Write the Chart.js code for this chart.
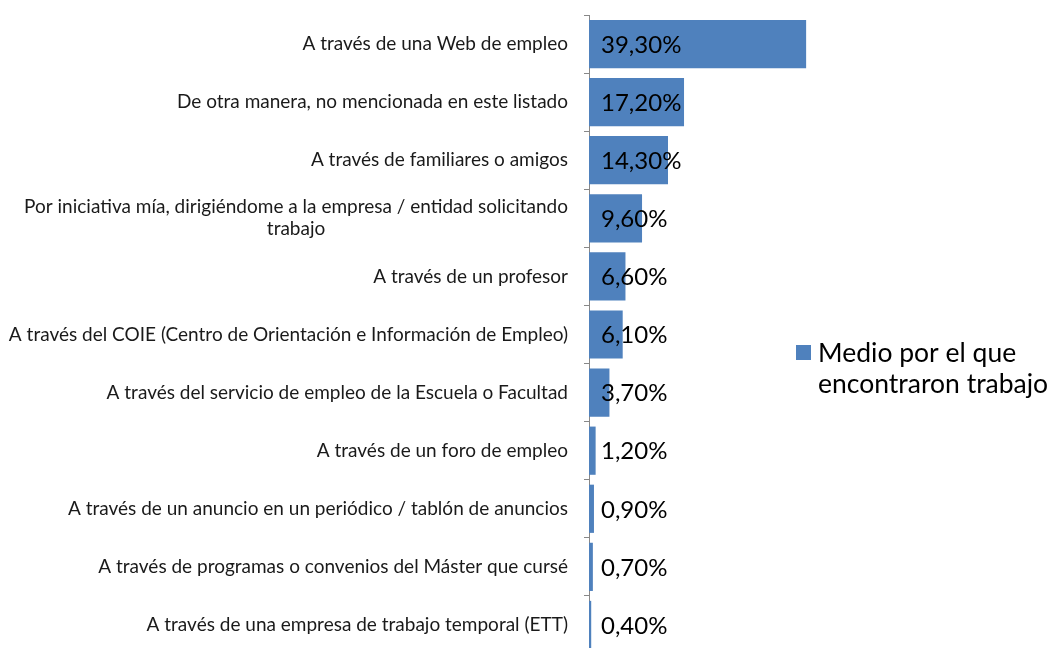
<!DOCTYPE html>
<html>
<head>
<meta charset="utf-8">
<script src="https://cdn.jsdelivr.net/npm/chart.js@4/dist/chart.umd.min.js"></script>
<style>
html,body{margin:0;padding:0;background:#fff;overflow:hidden;width:1055px;height:648px;}
#wrap{position:absolute;left:0;top:0;width:1055px;height:660px;}
</style>
</head>
<body>
<div id="wrap"><canvas id="c" width="1055" height="660"></canvas></div>
<script>
const categories = [
  "A través de una Web de empleo",
  "De otra manera, no mencionada en este listado",
  "A través de familiares o amigos",
  ["Por iniciativa mía, dirigiéndome a la empresa / entidad solicitando", "trabajo"],
  "A través de un profesor",
  "A través del COIE (Centro de Orientación e Información de Empleo)",
  "A través del servicio de empleo de la Escuela o Facultad",
  "A través de un foro de empleo",
  "A través de un anuncio en un periódico / tablón de anuncios",
  "A través de programas o convenios del Máster que cursé",
  "A través de una empresa de trabajo temporal (ETT)"
];
const values = [39.3, 17.2, 14.3, 9.6, 6.6, 6.1, 3.7, 1.2, 0.9, 0.7, 0.4];
const valueLabels = ["39,30%", "17,20%", "14,30%", "9,60%", "6,60%", "6,10%", "3,70%", "1,20%", "0,90%", "0,70%", "0,40%"];
const seriesName = ["Medio por el que", "encontraron trabajo"];

const FONT = "Lato, 'Open Sans', sans-serif";
const BLUE = "#4F81BD";

const drawPlugin = {
  id: 'custom',
  afterDatasetsDraw(chart) {
    const ctx = chart.ctx;
    const y = chart.scales.y;
    const meta = chart.getDatasetMeta(0);
    ctx.save();
    // category labels
    ctx.font = "19px " + FONT;
    ctx.fillStyle = "#1a1a1a";
    ctx.textBaseline = "middle";
    ctx.textAlign = "center";
    const rightEdge = y.right - 21;
    categories.forEach((lab, i) => {
      const lines = Array.isArray(lab) ? lab : [lab];
      const w = Math.max(...lines.map(l => ctx.measureText(l).width));
      const cx = rightEdge - w / 2;
      const cy = y.getPixelForValue(i);
      const lh = 22;
      lines.forEach((l, k) => {
        ctx.fillText(l, cx, cy + (k - (lines.length - 1) / 2) * lh);
      });
    });
    // value labels
    ctx.font = "24px " + FONT;
    ctx.fillStyle = "#000";
    ctx.textAlign = "left";
    meta.data.forEach((bar, i) => {
      ctx.fillText(valueLabels[i], bar.base + 12, bar.y + 1);
    });
    // legend
    ctx.fillStyle = BLUE;
    ctx.fillRect(796, 345, 15, 15);
    ctx.fillStyle = "#000";
    ctx.font = "26.5px " + FONT;
    ctx.textBaseline = "alphabetic";
    ctx.fillText(seriesName[0], 818, 362);
    ctx.fillText(seriesName[1], 818, 393);
    ctx.restore();
  }
};

new Chart(document.getElementById('c'), {
  type: 'bar',
  data: {
    labels: categories,
    datasets: [{
      label: seriesName.join(' '),
      data: values,
      backgroundColor: BLUE,
      borderWidth: 0,
      barPercentage: 0.83,
      categoryPercentage: 1.0
    }]
  },
  options: {
    indexAxis: 'y',
    responsive: false,
    animation: false,
    events: [],
    layout: { padding: { left: 0, right: 245, top: 15, bottom: 6 } },
    plugins: { legend: { display: false }, tooltip: { enabled: false } },
    scales: {
      x: { display: false, min: 0, max: 40 },
      y: {
        offset: true,
        ticks: { display: false },
        grid: { display: true, drawOnChartArea: false, drawTicks: true, tickLength: 5, offset: true, color: '#888888' },
        border: { display: true, color: '#888888', width: 1 },
        afterFit(scale) { scale.width = 589; }
      }
    }
  },
  plugins: [drawPlugin]
});
</script>
</body>
</html>
